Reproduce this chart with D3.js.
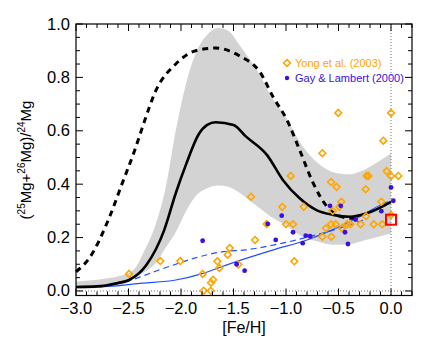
<!DOCTYPE html>
<html><head><meta charset="utf-8">
<script src="https://cdn.jsdelivr.net/npm/d3@7"></script>
<style>body{margin:0;background:#fff}svg{display:block}</style>
</head><body>
<script>
// ---- data ----
const bandFe = [-3.0,-2.75,-2.55,-2.45,-2.35,-2.25,-2.15,-2.05,-1.95,-1.85,-1.75,-1.65,-1.55,-1.45,-1.35,-1.25,-1.15,-1.0,-0.85,-0.7,-0.55,-0.4,-0.25,-0.1,0.0];
const bandHi = [0.035,0.045,0.06,0.08,0.15,0.24,0.38,0.6,0.78,0.9,0.96,0.985,0.975,0.925,0.87,0.81,0.735,0.65,0.547,0.48,0.445,0.437,0.455,0.49,0.515];
const bandLo = [0.008,0.012,0.025,0.045,0.07,0.1,0.16,0.22,0.30,0.36,0.385,0.395,0.39,0.37,0.34,0.31,0.28,0.245,0.205,0.185,0.173,0.175,0.19,0.205,0.215];

const solidFe  = [-3.0,-2.8,-2.6,-2.5,-2.33,-2.16,-2.05,-1.95,-1.83,-1.75,-1.67,-1.5,-1.38,-1.18,-1.03,-0.87,-0.71,-0.55,-0.39,-0.23,0.0];
const solidMg  = [0.015,0.017,0.03,0.04,0.097,0.228,0.366,0.476,0.588,0.622,0.632,0.622,0.578,0.509,0.416,0.347,0.303,0.285,0.278,0.291,0.334];

const dashFe = [-3.0,-2.87,-2.68,-2.56,-2.44,-2.37,-2.24,-2.05,-1.86,-1.67,-1.44,-1.25,-1.12,-0.99,-0.87,-0.74,-0.61,-0.49,-0.38,-0.3];
const dashMg = [0.072,0.125,0.278,0.403,0.528,0.61,0.75,0.85,0.9,0.91,0.88,0.821,0.725,0.64,0.528,0.403,0.316,0.28,0.272,0.272];

const blueFe = [-3.0,-2.7,-2.37,-2.05,-1.79,-1.57,-1.38,-1.12,-0.8,-0.49,-0.3,-0.1,-0.03];
const blueMg = [0.015,0.017,0.029,0.041,0.066,0.097,0.122,0.154,0.191,0.241,0.278,0.322,0.334];

const blueDashFe = [-3.0,-2.7,-2.52,-2.37,-2.2,-2.05,-1.88,-1.6,-1.38,-1.12,-0.8,-0.49,-0.26];
const blueDashMg = [0.015,0.02,0.035,0.055,0.08,0.1,0.122,0.147,0.154,0.172,0.201,0.235,0.266];

const yongFe = [-2.495,-2.197,-2.007,-1.794,-1.784,-1.717,-1.714,-1.695,-1.654,-1.635,-1.555,-1.536,-1.454,-1.333,-1.295,-1.184,-1.035,-1.0,-0.955,-0.933,-0.921,-0.831,-0.654,-0.654,-0.619,-0.571,-0.571,-0.568,-0.556,-0.527,-0.519,-0.502,-0.492,-0.473,-0.467,-0.419,-0.388,-0.289,-0.241,-0.238,-0.232,-0.215,-0.165,-0.092,-0.083,-0.073,-0.041,0.0,0.0,0.0,0.07];
const yongMg = [0.064,0.112,0.112,0.064,0.001,0.001,0.031,0.042,0.111,0.086,0.136,0.161,0.099,0.353,0.191,0.251,0.315,0.25,0.431,0.25,0.111,0.315,0.516,0.203,0.235,0.408,0.25,0.203,0.3,0.25,0.39,0.667,0.315,0.334,0.235,0.25,0.25,0.25,0.381,0.28,0.431,0.431,0.25,0.334,0.25,0.563,0.449,0.667,0.431,0.285,0.431];

const gayFe = [-1.794,-1.47,-1.394,-1.175,-1.098,-1.041,-0.933,-0.841,-0.812,-0.771,-0.581,-0.479,-0.438,-0.41,-0.337,-0.092,0.0,0.022];
const gayMg = [0.188,0.1,0.076,0.251,0.191,0.282,0.22,0.179,0.207,0.205,0.319,0.319,0.22,0.176,0.267,0.299,0.388,0.338];

const sunFe = [0.0];
const sunMg = [0.267];

const xTicks = [-3.0,-2.5,-2.0,-1.5,-1.0,-0.5,0.0];
const yTicks = [0.0,0.2,0.4,0.6,0.8,1.0];
const legendLabels = ["Yong et al. (2003)","Gay & Lambert (2000)"];

// ---- drawing ----
const W = 436, H = 345;
const svg = d3.select("body").append("svg").attr("width", W).attr("height", H);
const x = d3.scaleLinear().domain([-3.0, 0.2]).range([76, 412]);
const y = d3.scaleLinear().domain([-0.017, 1.0]).range([295.5, 24]);
const FONT = "'Liberation Sans', Arial, sans-serif";
const ORANGE = "#ffa500", BLUEDOT = "#3a10e0", BLUELINE = "#2050ff";

// band
const band = bandFe.map((f,i)=>({f, lo:bandLo[i], hi:bandHi[i]}));
svg.append("path").datum(band)
  .attr("d", d3.area().x(d=>x(d.f)).y0(d=>y(d.lo)).y1(d=>y(d.hi)).curve(d3.curveMonotoneX))
  .attr("fill", "#d3d3d3");

// dotted reference lines
svg.append("line").attr("x1", x(-3.0)).attr("x2", x(0.2)).attr("y1", y(0)).attr("y2", y(0))
  .attr("stroke", "#777").attr("stroke-width", 1).attr("stroke-dasharray", "1,2");
svg.append("line").attr("x1", x(0)).attr("x2", x(0)).attr("y1", y(1.0)).attr("y2", y(-0.017))
  .attr("stroke", "#777").attr("stroke-width", 1).attr("stroke-dasharray", "1,2");

const line = d3.line().x(d=>x(d[0])).y(d=>y(d[1])).curve(d3.curveMonotoneX);
const zip = (a,b)=>a.map((v,i)=>[v,b[i]]);

svg.append("path").attr("d", line(zip(blueFe, blueMg)))
  .attr("fill","none").attr("stroke", BLUELINE).attr("stroke-width", 1.2);
svg.append("path").attr("d", line(zip(blueDashFe, blueDashMg)))
  .attr("fill","none").attr("stroke", BLUELINE).attr("stroke-width", 1.2).attr("stroke-dasharray","6,4");
svg.append("path").attr("d", line(zip(dashFe, dashMg)))
  .attr("fill","none").attr("stroke", "#000").attr("stroke-width", 3).attr("stroke-dasharray","6,5");
svg.append("path").attr("d", line(zip(solidFe, solidMg)))
  .attr("fill","none").attr("stroke", "#000").attr("stroke-width", 2.6);

// Yong diamonds
const dia = (cx, cy, r)=>`M${cx},${cy-r}L${cx+r},${cy}L${cx},${cy+r}L${cx-r},${cy}Z`;
svg.append("g").selectAll("path").data(zip(yongFe, yongMg)).join("path")
  .attr("d", d=>dia(x(d[0]), y(d[1]), 3.4))
  .attr("fill","none").attr("stroke", ORANGE).attr("stroke-width", 1.6);
// Gay dots
svg.append("g").selectAll("circle").data(zip(gayFe, gayMg)).join("circle")
  .attr("cx", d=>x(d[0])).attr("cy", d=>y(d[1])).attr("r", 2.4).attr("fill", BLUEDOT);
// Sun square
svg.append("g").selectAll("rect").data(zip(sunFe, sunMg)).join("rect")
  .attr("x", d=>x(d[0])-5).attr("y", d=>y(d[1])-5).attr("width",10).attr("height",10)
  .attr("fill","none").attr("stroke","#ff0000").attr("stroke-width",2);

// frame
const x0 = x(-3.0), x1 = x(0.2), yT = y(1.0), yB = y(-0.017);
svg.append("rect").attr("x", x0).attr("y", yT).attr("width", x1-x0).attr("height", yB-yT)
  .attr("fill","none").attr("stroke","#000").attr("stroke-width",1.2);

const tk = svg.append("g").attr("stroke","#000").attr("stroke-width",1);
const xMinor = d3.range(-30, 3).map(v=>v/10);
xMinor.forEach(v=>{
  const major = xTicks.some(t=>Math.abs(t-v)<1e-6);
  const L = major ? 7 : 4;
  tk.append("line").attr("x1",x(v)).attr("x2",x(v)).attr("y1",yB).attr("y2",yB-L);
  tk.append("line").attr("x1",x(v)).attr("x2",x(v)).attr("y1",yT).attr("y2",yT+L);
});
const yMinor = d3.range(0, 21).map(v=>v/20);
yMinor.forEach(v=>{
  const major = yTicks.some(t=>Math.abs(t-v)<1e-6);
  const L = major ? 7 : 4;
  tk.append("line").attr("x1",x0).attr("x2",x0+L).attr("y1",y(v)).attr("y2",y(v));
  tk.append("line").attr("x1",x1).attr("x2",x1-L).attr("y1",y(v)).attr("y2",y(v));
});

// tick labels
svg.append("g").selectAll("text").data(xTicks).join("text")
  .attr("x", d=>x(d)).attr("y", 314).attr("text-anchor","middle")
  .attr("font-family", FONT).attr("font-size", 16.5).attr("fill","#000")
  .text(d=>d3.format(".1f")(d).replace("-", "\u2212"));
svg.append("g").selectAll("text").data(yTicks).join("text")
  .attr("x", 70).attr("y", d=>y(d)+5.5).attr("text-anchor","end")
  .attr("font-family", FONT).attr("font-size", 16.5).attr("fill","#000")
  .text(d=>d3.format(".1f")(d));

// axis titles
svg.append("text").attr("x", 244).attr("y", 333).attr("text-anchor","middle")
  .attr("font-family", FONT).attr("font-size", 16).text("[Fe/H]");
const yl = svg.append("text").attr("transform","translate(31,160) rotate(-90)")
  .attr("text-anchor","middle").attr("font-family", FONT).attr("font-size", 15);
yl.append("tspan").text("(");
yl.append("tspan").attr("font-size",10).attr("dy",-6).text("25");
yl.append("tspan").attr("dy",6).text("Mg+");
yl.append("tspan").attr("font-size",10).attr("dy",-6).text("26");
yl.append("tspan").attr("dy",6).text("Mg)/");
yl.append("tspan").attr("font-size",10).attr("dy",-6).text("24");
yl.append("tspan").attr("dy",6).text("Mg");

// legend
const lg = svg.append("g");
lg.append("path").attr("d", dia(287, 63, 3.4)).attr("fill","none").attr("stroke",ORANGE).attr("stroke-width",1.6);
lg.append("text").attr("x",295).attr("y",67).attr("font-family",FONT).attr("font-size",11)
  .attr("fill",ORANGE).text(legendLabels[0]);
lg.append("circle").attr("cx",287).attr("cy",78).attr("r",2.2).attr("fill",BLUEDOT);
lg.append("text").attr("x",295).attr("y",82).attr("font-family",FONT).attr("font-size",11)
  .attr("fill",BLUEDOT).text(legendLabels[1]);
</script>
</body></html>
